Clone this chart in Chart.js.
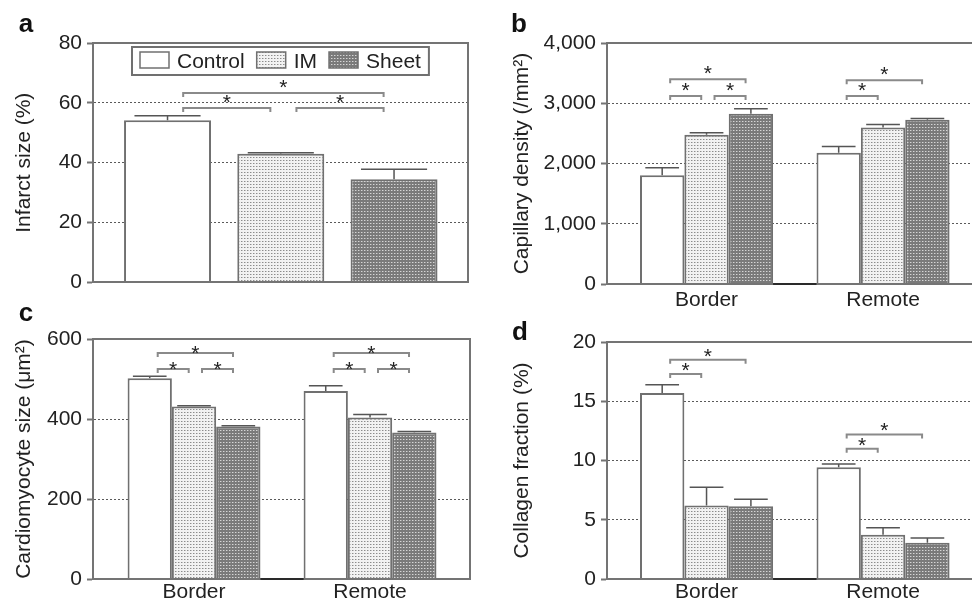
<!DOCTYPE html>
<html>
<head>
<meta charset="utf-8">
<script src="https://cdn.jsdelivr.net/npm/chart.js@4.4.1/dist/chart.umd.min.js"></script>
<style>
  html, body { margin: 0; padding: 0; background: #fff; }
  body { width: 972px; height: 600px; position: relative; overflow: hidden; }
  canvas { position: absolute; }
</style>
</head>
<body>
<canvas id="chartA" width="486" height="300" style="left:0;top:0"></canvas>
<canvas id="chartB" width="486" height="320" style="left:486px;top:0"></canvas>
<canvas id="chartC" width="486" height="300" style="left:0;top:300px"></canvas>
<canvas id="chartD" width="486" height="300" style="left:486px;top:300px"></canvas>
<script>
/* DATA */
const seriesNames = ['Control', 'IM', 'Sheet']
const regions = ['Border', 'Remote']

// a: infarct size (%)
const infarctMean = [54.2, 43.0, 34.5]
const infarctSem = [1.5, 0.3, 3.3]
const infarctTicks = [0, 20, 40, 60, 80]
// [group, from series, to series, height]
const infarctStars = [[0, 0, 1, 58.3], [0, 1, 2, 58.3], [0, 0, 2, 63.3]]

// b: capillary density (/mm2), [Border, Remote]
const capControl = [1805, 2177]
const capIM = [2476, 2597]
const capSheet = [2825, 2725]
const capControlSem = [123, 105]
const capIMSem = [33, 50]
const capSheetSem = [83, 22]
const capTicks = [0, 1000, 2000, 3000, 4000]
const capStars = [[0, 0, 1, 3120], [0, 1, 2, 3120], [0, 0, 2, 3400], [1, 0, 1, 3120], [1, 0, 2, 3380]]

// c: cardiomyocyte size (um2)
const cmControl = [502, 470]
const cmIM = [431, 404]
const cmSheet = [381, 366]
const cmControlSem = [5, 13]
const cmIMSem = [2, 7]
const cmSheetSem = [2, 3]
const cmTicks = [0, 200, 400, 600]
const cmStars = [[0, 0, 1, 525], [0, 1, 2, 525], [0, 0, 2, 565], [1, 0, 1, 525], [1, 1, 2, 525], [1, 0, 2, 565]]

// d: collagen fraction (%)
const colControl = [15.7, 9.43]
const colIM = [6.2, 3.73]
const colSheet = [6.14, 3.06]
const colControlSem = [0.7, 0.27]
const colIMSem = [1.55, 0.6]
const colSheetSem = [0.6, 0.4]
const colTicks = [0, 5, 10, 15, 20]
const colStars = [[0, 0, 1, 17.3], [0, 0, 2, 18.5], [1, 0, 1, 11.0], [1, 0, 2, 12.2]]

/* STYLE */
const FONT = '"Liberation Sans", Arial, Helvetica, sans-serif'
const edge = '#707070'
const axisGray = '#747474'

Chart.defaults.font.family = FONT
Chart.defaults.font.size = 21
Chart.defaults.color = '#222'
Chart.defaults.animation = false
Chart.defaults.plugins.legend.display = false
Chart.defaults.plugins.tooltip.enabled = false

function makePattern(ctx, bg, dots) {
  const tile = document.createElement('canvas')
  tile.width = 3
  tile.height = 3
  const g = tile.getContext('2d')
  g.fillStyle = bg
  g.fillRect(0, 0, 3, 3)
  for (const [x, y, col] of dots) {
    g.fillStyle = col
    g.fillRect(x, y, 1, 1)
  }
  return ctx.createPattern(tile, 'repeat')
}

function getFills(ctx) {
  return [
    '#ffffff',
    makePattern(ctx, '#f2f2f2', [[1, 1, '#8c8c8c'], [2, 1, '#c4c4c4']]),
    makePattern(ctx, '#7a7a7a', [[1, 1, '#d6d6d6'], [2, 1, '#a2a2a2']])
  ]
}

/* DRAWING HELPERS */
function decor(spec) {
  return {
    id: 'decor',
    afterDatasetsDraw(chart) {
      const { ctx, scales: { y } } = chart
      const datasets = chart.data.datasets
      ctx.save()

      // error bars (upper only)
      ctx.strokeStyle = '#555'
      ctx.lineWidth = 1.5
      datasets.forEach((ds, i) => {
        chart.getDatasetMeta(i).data.forEach((bar, j) => {
          const top = y.getPixelForValue(ds.data[j].y + ds.errors[j])
          const half = bar.width * 0.38
          ctx.beginPath()
          ctx.moveTo(bar.x, bar.y)
          ctx.lineTo(bar.x, top)
          ctx.moveTo(bar.x - half, top)
          ctx.lineTo(bar.x + half, top)
          ctx.stroke()
        })
      })

      // significance brackets
      ctx.strokeStyle = '#8a8a8a'
      ctx.lineWidth = 2
      ctx.fillStyle = '#222'
      ctx.font = '21px ' + FONT
      ctx.textAlign = 'center'
      ctx.textBaseline = 'alphabetic'
      for (const [g, from, to, value] of spec.stars) {
        const b1 = chart.getDatasetMeta(from).data[g]
        const b2 = chart.getDatasetMeta(to).data[g]
        const x1 = b1.x + b1.width * 0.18
        const x2 = b2.x - b2.width * 0.12
        const yy = y.getPixelForValue(value)
        ctx.beginPath()
        ctx.moveTo(x1, yy + 4)
        ctx.lineTo(x1, yy)
        ctx.lineTo(x2, yy)
        ctx.lineTo(x2, yy + 4)
        ctx.stroke()
        ctx.fillText('*', (x1 + x2) / 2, yy - spec.lift + 10)
      }
      ctx.restore()
    },
    afterDraw(chart) {
      const { ctx, chartArea } = chart
      ctx.save()

      // dark base between the two groups
      if (spec.gapLine) {
        const first = chart.getDatasetMeta(0).data
        const last = chart.getDatasetMeta(chart.data.datasets.length - 1).data
        ctx.strokeStyle = '#2a2a2a'
        ctx.lineWidth = 2
        for (let g = 0; g < first.length - 1; g++) {
          ctx.beginPath()
          ctx.moveTo(last[g].x + last[g].width / 2, chartArea.bottom)
          ctx.lineTo(first[g + 1].x - first[g + 1].width / 2, chartArea.bottom)
          ctx.stroke()
        }
      }

      // frame
      ctx.strokeStyle = axisGray
      ctx.lineWidth = 2
      ctx.beginPath()
      ctx.moveTo(chartArea.left, chartArea.top)
      ctx.lineTo(chartArea.right, chartArea.top)
      if (spec.rightBorder) ctx.lineTo(chartArea.right, chartArea.bottom)
      ctx.stroke()

      // panel letter
      ctx.fillStyle = '#111'
      ctx.font = 'bold 26px ' + FONT
      ctx.textAlign = 'center'
      ctx.fillText(spec.letter, spec.letterX, spec.letterY)

      if (spec.legend) drawLegend(chart, spec.fills)
      ctx.restore()
    }
  }
}

function drawLegend(chart, fills) {
  const { ctx, chartArea } = chart
  ctx.font = '21px ' + FONT
  ctx.textAlign = 'left'
  const left = chartArea.left + 39
  const top = chartArea.top + 4
  const widths = seriesNames.map(n => ctx.measureText(n).width)
  let boxW = 16
  widths.forEach((w, i) => { boxW += 37 + w + (i ? 12 : 0) })

  ctx.lineWidth = 2
  ctx.strokeStyle = edge
  ctx.fillStyle = '#fff'
  ctx.fillRect(left, top, boxW, 28)
  ctx.strokeRect(left, top, boxW, 28)

  let x = left + 8
  seriesNames.forEach((name, i) => {
    ctx.fillStyle = fills[i]
    ctx.fillRect(x, top + 5, 29, 16)
    ctx.lineWidth = 1.5
    ctx.strokeRect(x, top + 5, 29, 16)
    ctx.fillStyle = '#222'
    ctx.fillText(name, x + 37, top + 20.5)
    x += 37 + widths[i] + 12
  })
}

function yAxis(ticks, title, width, titlePad) {
  const min = ticks[0]
  const max = ticks[ticks.length - 1]
  return {
    min, max,
    afterBuildTicks: s => { s.ticks = ticks.map(v => ({ value: v })) },
    afterFit: s => { s.width = width },
    ticks: { padding: 5, callback: v => v.toLocaleString('en-US') },
    grid: {
      color: c => (c.tick && (c.tick.value === min || c.tick.value === max)) ? 'rgba(0,0,0,0)' : '#5a5a5a',
      lineWidth: 1,
      tickColor: axisGray,
      tickLength: 6,
      tickWidth: 2
    },
    border: { color: axisGray, width: 2, dash: [2, 2], z: 1 },
    title: { display: true, text: title, padding: { top: titlePad, bottom: 0 }, font: { size: 21 } }
  }
}

function xAxis(min, max, values, labels, height, pad) {
  return {
    type: 'linear',
    offset: false,
    min, max,
    afterBuildTicks: s => { s.ticks = values.map(v => ({ value: v })) },
    afterFit: s => { s.height = height },
    ticks: {
      display: !!labels,
      padding: pad,
      autoSkip: false,
      maxRotation: 0,
      callback: v => labels ? labels[v - 1] : ''
    },
    grid: { display: false, drawTicks: false },
    border: { color: axisGray, width: 2, z: 1 }
  }
}

function groupedDatasets(fills, means, sems, catPct) {
  return seriesNames.map((name, i) => ({
    label: name,
    data: regions.map((r, j) => ({ x: j + 1, y: means[i][j] })),
    errors: sems[i],
    backgroundColor: fills[i],
    borderColor: edge,
    borderWidth: 2,
    categoryPercentage: catPct,
    barPercentage: 1
  }))
}

/* PANEL a */
const ctxA = document.getElementById('chartA').getContext('2d')
const fillsA = getFills(ctxA)
new Chart(ctxA, {
  type: 'bar',
  data: {
    datasets: seriesNames.map((name, i) => ({
      label: name,
      data: [{ x: i + 1, y: infarctMean[i] }],
      errors: [infarctSem[i]],
      backgroundColor: fillsA[i],
      borderColor: edge,
      borderWidth: 2,
      grouped: false,
      categoryPercentage: 0.768,
      barPercentage: 1
    }))
  },
  options: {
    responsive: false,
    layout: { padding: { top: 43, right: 18, left: 0, bottom: 0 } },
    scales: {
      x: xAxis(0.342, 3.653, [1, 2, 3], null, 16, 0),
      y: yAxis(infarctTicks, 'Infarct size (%)', 93, 12)
    }
  },
  plugins: [decor({ stars: infarctStars, lift: 9, rightBorder: true, letter: 'a', letterX: 26, letterY: 32, legend: true, fills: fillsA })]
})

/* PANEL b */
const ctxB = document.getElementById('chartB').getContext('2d')
const fillsB = getFills(ctxB)
new Chart(ctxB, {
  type: 'bar',
  data: { datasets: groupedDatasets(fillsB, [capControl, capIM, capSheet], [capControlSem, capIMSem, capSheetSem], 0.754) },
  options: {
    responsive: false,
    layout: { padding: { top: 43, right: 0, left: 0, bottom: 0 } },
    scales: {
      x: xAxis(0.436, 2.504, [1, 2], regions, 36, 4),
      y: yAxis(capTicks, 'Capillary density (/mm²)', 121, 24)
    }
  },
  plugins: [decor({ stars: capStars, lift: 9, gapLine: true, letter: 'b', letterX: 33, letterY: 32 })]
})

/* PANEL c */
const ctxC = document.getElementById('chartC').getContext('2d')
const fillsC = getFills(ctxC)
new Chart(ctxC, {
  type: 'bar',
  data: { datasets: groupedDatasets(fillsC, [cmControl, cmIM, cmSheet], [cmControlSem, cmIMSem, cmSheetSem], 0.755) },
  options: {
    responsive: false,
    layout: { padding: { top: 39, right: 16, left: 0, bottom: 0 } },
    scales: {
      x: xAxis(0.426, 2.568, [1, 2], regions, 21, 1),
      y: yAxis(cmTicks, 'Cardiomyocyte size (μm²)', 93, 12)
    }
  },
  plugins: [decor({ stars: cmStars, lift: 3, gapLine: true, rightBorder: true, letter: 'c', letterX: 26, letterY: 21 })]
})

/* PANEL d */
const ctxD = document.getElementById('chartD').getContext('2d')
const fillsD = getFills(ctxD)
new Chart(ctxD, {
  type: 'bar',
  data: { datasets: groupedDatasets(fillsD, [colControl, colIM, colSheet], [colControlSem, colIMSem, colSheetSem], 0.754) },
  options: {
    responsive: false,
    layout: { padding: { top: 42, right: 0, left: 0, bottom: 0 } },
    scales: {
      x: xAxis(0.436, 2.504, [1, 2], regions, 21, 1),
      y: yAxis(colTicks, 'Collagen fraction (%)', 121, 24)
    }
  },
  plugins: [decor({ stars: colStars, lift: 7, gapLine: true, letter: 'd', letterX: 34, letterY: 40 })]
})
</script>
</body>
</html>
